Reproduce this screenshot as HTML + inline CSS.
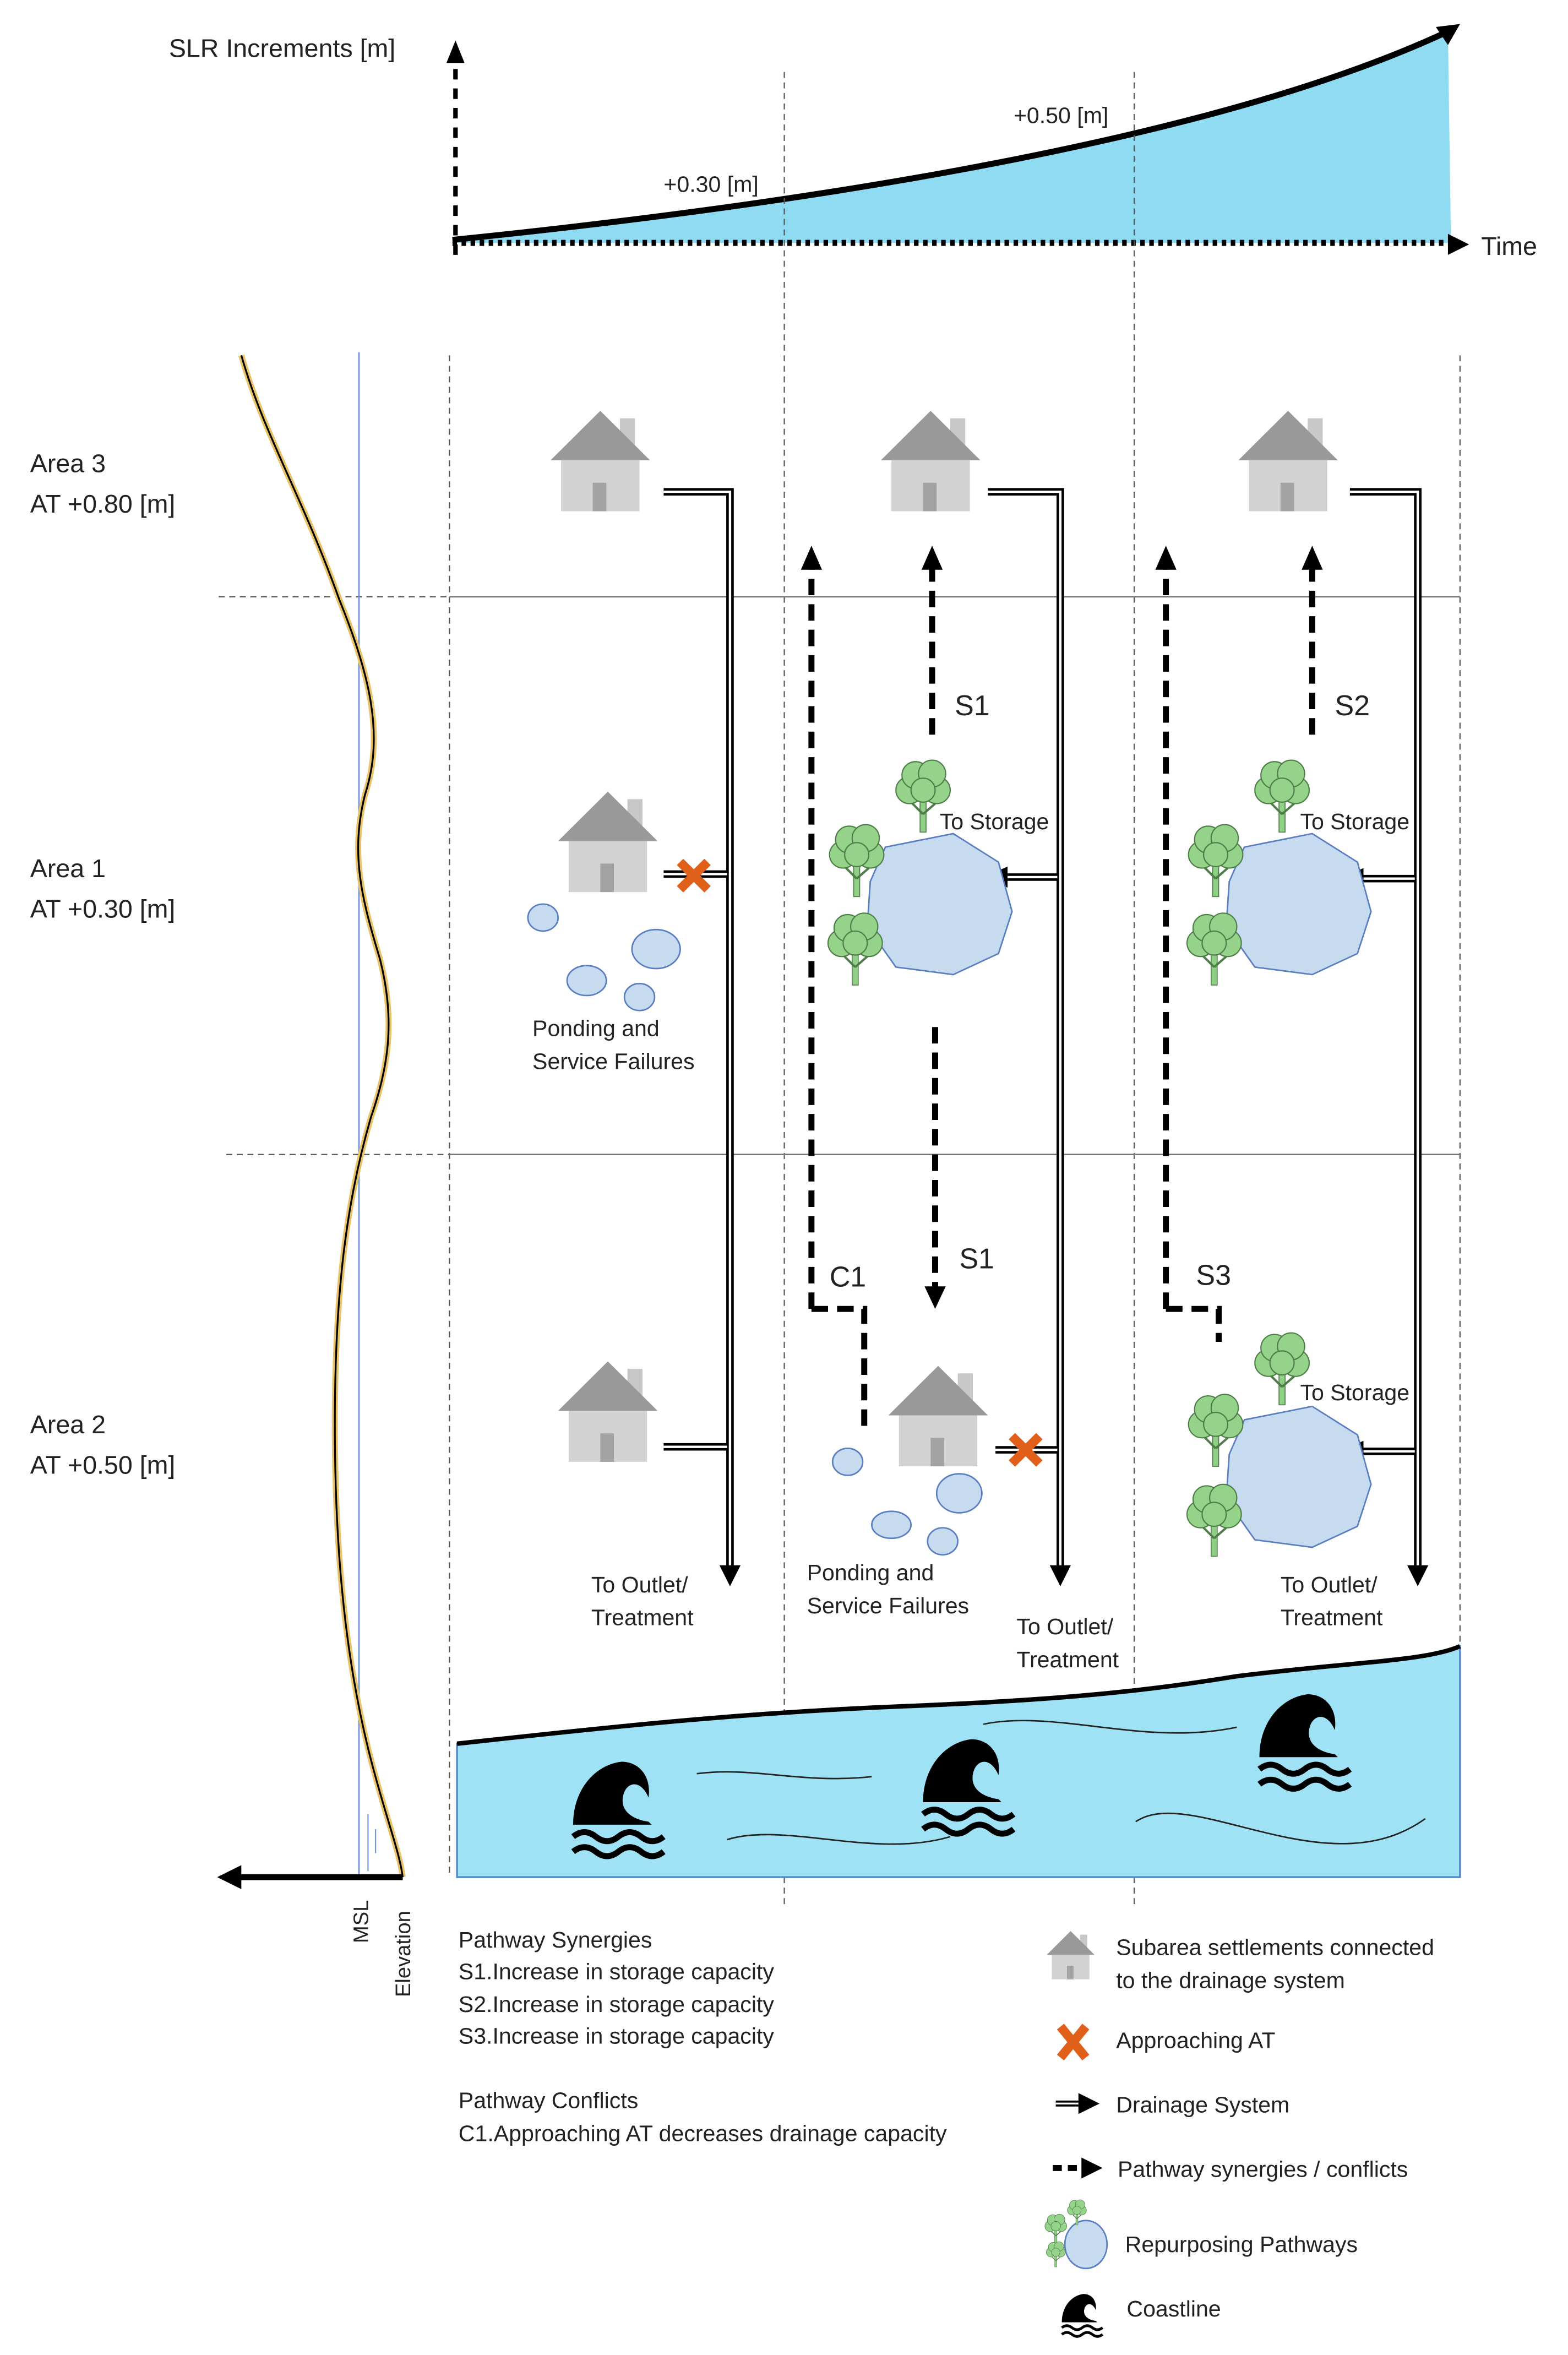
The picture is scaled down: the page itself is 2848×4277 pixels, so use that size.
<!DOCTYPE html>
<html><head><meta charset="utf-8"><style>
html,body{margin:0;padding:0;background:#fff}
svg{display:block}
text{font-family:"Liberation Sans",sans-serif;fill:#222}
</style></head><body>
<svg width="2848" height="4277" viewBox="0 0 1050 1577" preserveAspectRatio="none" xmlns="http://www.w3.org/2000/svg">
<defs>
<g id="house">
<rect x="46" y="5" width="10" height="22" fill="#c8c8c8"/>
<polygon points="0,33 33,0 66,33" fill="#999"/>
<rect x="7" y="33" width="52" height="34" fill="#d2d2d2"/>
<rect x="28" y="48" width="9" height="19" fill="#a3a3a3"/>
</g>
<g id="tree">
<rect x="-2" y="-22" width="4" height="22" fill="#8fcf86" stroke="#4f7d48" stroke-width="0.6"/>
<path d="M0,-12 L-8,-20 M0,-12 L8,-19" stroke="#4f7d48" stroke-width="1.5"/>
<g fill="#95d38b" stroke="#4f7d48" stroke-width="0.8">
<circle cx="-9" cy="-28" r="9"/><circle cx="9" cy="-28" r="9"/><circle cx="-5" cy="-38" r="9"/><circle cx="6" cy="-39" r="9"/><circle cx="0" cy="-28" r="8"/>
</g>
</g>
<g id="wave">
<path d="M0,42 C0,18 15,2 32,0 C44,0 52,10 50,24 C46,14 38,12 34,20 C30,30 36,38 50,40 L52,42 Z" fill="#000"/>
<path d="M0,50 q7.5,-6 15,0 t15,0 t15,0 t15,0" fill="none" stroke="#000" stroke-width="4"/>
<path d="M0,60 q7.5,-6 15,0 t15,0 t15,0 t15,0" fill="none" stroke="#000" stroke-width="4"/>
</g>
<g id="pond"><path d="M-35,-38 L10,-47 L40,-28 L49,5 L40,33 L10,47 L-28,42 L-47,15 L-45,-15 Z" fill="#c6daf0" stroke="#5a7fc0" stroke-width="1"/></g>
</defs>
<g transform="scale(1.01,1.004)">

<!-- top chart -->
<path d="M300,161 C495,140 792,100 960,20 L962,162 L300,162 Z" fill="#8fdcf2"/>
<path d="M300,160 C495,140 792,100 960,21" fill="none" stroke="#000" stroke-width="4"/>
<polygon points="968,16 952,18 960,30" fill="#000"/>
<line x1="302" y1="170" x2="302" y2="42" stroke="#000" stroke-width="3" stroke-dasharray="7,6"/>
<polygon points="302,27 296,42 308,42" fill="#000"/>
<line x1="300" y1="162" x2="962" y2="162" stroke="#000" stroke-width="4" stroke-dasharray="3,3"/>
<polygon points="974,163 960,156 960,170" fill="#000"/>
<text x="112" y="38" font-size="17">SLR Increments [m]</text>
<text x="982" y="170" font-size="17">Time</text>
<text x="440" y="128" font-size="15">+0.30 [m]</text>
<text x="672" y="82" font-size="15">+0.50 [m]</text>

<!-- grid -->
<g stroke="#555" stroke-width="0.8" stroke-dasharray="4,3">
<line x1="520" y1="48" x2="520" y2="1270"/>
<line x1="752" y1="48" x2="752" y2="1270"/>
<line x1="298" y1="237" x2="298" y2="1250"/>
<line x1="968" y1="237" x2="968" y2="1100"/>
<line x1="145" y1="398" x2="298" y2="398"/>
<line x1="150" y1="770" x2="298" y2="770"/>
</g>
<line x1="298" y1="398" x2="968" y2="398" stroke="#777" stroke-width="1"/>
<line x1="298" y1="770" x2="968" y2="770" stroke="#777" stroke-width="1"/>

<!-- elevation profile -->
<line x1="238" y1="235" x2="238" y2="1250" stroke="#6d97d6" stroke-width="1"/>
<line x1="244" y1="1210" x2="244" y2="1248" stroke="#6d97d6" stroke-width="0.8"/>
<line x1="249" y1="1220" x2="249" y2="1236" stroke="#6d97d6" stroke-width="0.8"/>
<path d="M160,237 C175,290 200,330 225,400 C245,450 255,490 242,530 C232,570 240,600 252,640 C262,680 258,710 246,745 C230,800 222,860 222,950 C222,1040 230,1110 245,1170 C255,1210 265,1235 267,1252" fill="none" stroke="#e8c36a" stroke-width="4"/>
<path d="M160,237 C175,290 200,330 225,400 C245,450 255,490 242,530 C232,570 240,600 252,640 C262,680 258,710 246,745 C230,800 222,860 222,950 C222,1040 230,1110 245,1170 C255,1210 265,1235 267,1252" fill="none" stroke="#000" stroke-width="1.2"/>
<line x1="267" y1="1252" x2="158" y2="1252" stroke="#000" stroke-width="4"/>
<polygon points="144,1252 160,1244 160,1260" fill="#000"/>
<text transform="translate(244,1296) rotate(-90)" font-size="14">MSL</text>
<text transform="translate(272,1332) rotate(-90)" font-size="14">Elevation</text>

<text x="20" y="315" font-size="17">Area 3</text>
<text x="20" y="342" font-size="17">AT +0.80 [m]</text>
<text x="20" y="585" font-size="17">Area 1</text>
<text x="20" y="612" font-size="17">AT +0.30 [m]</text>
<text x="20" y="956" font-size="17">Area 2</text>
<text x="20" y="983" font-size="17">AT +0.50 [m]</text>

<!-- houses -->
<use href="#house" x="365" y="274"/>
<use href="#house" x="584" y="274"/>
<use href="#house" x="821" y="274"/>
<use href="#house" x="370" y="528"/>
<use href="#house" x="370" y="908"/>
<use href="#house" x="589" y="911"/>

<!-- drainage double lines -->
<g fill="none" stroke="#000" stroke-width="5">
<path d="M440,328 H484 V1048"/><path d="M440,583 H484"/><path d="M440,965 H484"/>
<path d="M655,328 H703 V1048"/><path d="M662,585 H703"/><path d="M660,967 H703"/>
<path d="M895,328 H940 V1048"/><path d="M900,586 H940"/><path d="M900,968 H940"/>
</g>
<g fill="none" stroke="#fff" stroke-width="1.6">
<path d="M440,328 H484 V1046"/><path d="M440,583 H482"/><path d="M440,965 H482"/>
<path d="M655,328 H703 V1046"/><path d="M664,585 H701"/><path d="M660,967 H701"/>
<path d="M895,328 H940 V1046"/><path d="M902,586 H938"/><path d="M902,968 H938"/>
</g>
<g fill="#000">
<polygon points="484,1058 477,1044 491,1044"/>
<polygon points="703,1058 696,1044 710,1044"/>
<polygon points="940,1058 933,1044 947,1044"/>
<polygon points="652,585 668,578 668,592"/>
<polygon points="888,586 904,579 904,593"/>
<polygon points="888,968 904,961 904,975"/>
</g>

<!-- dashed arrows -->
<g fill="none" stroke="#000" stroke-width="4" stroke-dasharray="11,6">
<path d="M538,873 V378"/><path d="M538,873 H573 V955"/>
<path d="M618,490 V378"/>
<path d="M620,685 V860"/>
<path d="M773,873 V378"/><path d="M773,873 H808 V895"/>
<path d="M870,490 V378"/>
</g>
<g fill="#000">
<polygon points="538,364 531,380 545,380"/>
<polygon points="618,364 611,380 625,380"/>
<polygon points="620,873 613,858 627,858"/>
<polygon points="773,364 766,380 780,380"/>
<polygon points="870,364 863,380 877,380"/>
</g>
<text x="633" y="477" font-size="19">S1</text>
<text x="636" y="846" font-size="19">S1</text>
<text x="885" y="477" font-size="19">S2</text>
<text x="550" y="858" font-size="19">C1</text>
<text x="793" y="857" font-size="19">S3</text>

<!-- ponds and trees -->
<use href="#pond" x="622" y="603"/>
<use href="#pond" x="860" y="603"/>
<use href="#pond" x="860" y="985"/>
<use href="#tree" x="612" y="555"/><use href="#tree" x="568" y="598"/><use href="#tree" x="567" y="657"/>
<use href="#tree" x="850" y="555"/><use href="#tree" x="806" y="598"/><use href="#tree" x="805" y="657"/>
<use href="#tree" x="850" y="937"/><use href="#tree" x="806" y="978"/><use href="#tree" x="805" y="1038"/>
<text x="623" y="553" font-size="15">To Storage</text>
<text x="862" y="553" font-size="15">To Storage</text>
<text x="862" y="934" font-size="15">To Storage</text>

<g fill="#c6daf0" stroke="#5a7fc0" stroke-width="1">
<ellipse cx="360" cy="612" rx="10" ry="9"/><ellipse cx="435" cy="633" rx="16" ry="13"/><ellipse cx="389" cy="654" rx="13" ry="10"/><ellipse cx="424" cy="665" rx="10" ry="9"/>
<ellipse cx="562" cy="975" rx="10" ry="9"/><ellipse cx="636" cy="996" rx="15" ry="13"/><ellipse cx="591" cy="1017" rx="13" ry="9"/><ellipse cx="625" cy="1028" rx="10" ry="9"/>
</g>
<text x="353" y="691" font-size="15">Ponding and</text>
<text x="353" y="713" font-size="15">Service Failures</text>
<text x="535" y="1054" font-size="15">Ponding and</text>
<text x="535" y="1076" font-size="15">Service Failures</text>
<text x="392" y="1062" font-size="15">To Outlet/</text>
<text x="392" y="1084" font-size="15">Treatment</text>
<text x="674" y="1090" font-size="15">To Outlet/</text>
<text x="674" y="1112" font-size="15">Treatment</text>
<text x="849" y="1062" font-size="15">To Outlet/</text>
<text x="849" y="1084" font-size="15">Treatment</text>

<!-- X marks -->
<g stroke="#e0601a" stroke-width="6" stroke-linecap="square">
<path d="M453,577 L467,591 M467,577 L453,591"/>
<path d="M673,960 L687,974 M687,960 L673,974"/>
<path d="M705,1354 L718,1370 M718,1354 L705,1370"/>
</g>

<!-- sea -->
<path d="M303,1163 C420,1150 500,1142 600,1138 C700,1134 760,1128 820,1118 C900,1108 945,1108 968,1098 L968,1252 L303,1252 Z" fill="#a0e2f5" stroke="#4f86c6" stroke-width="1.2"/>
<path d="M303,1163 C420,1150 500,1142 600,1138 C700,1134 760,1128 820,1118 C900,1108 945,1108 968,1098" fill="none" stroke="#000" stroke-width="3"/>
<g fill="none" stroke="#222" stroke-width="1">
<path d="M462,1183 C500,1178 530,1190 578,1185"/>
<path d="M652,1150 C700,1140 760,1165 820,1152"/>
<path d="M482,1227 C520,1215 580,1240 630,1225"/>
<path d="M753,1215 C790,1190 880,1260 945,1213"/>
</g>
<use href="#wave" x="380" y="1175"/>
<use href="#wave" x="612" y="1160"/>
<use href="#wave" x="835" y="1130"/>

<!-- legend -->
<g font-size="15">
<text x="304" y="1299">Pathway Synergies</text>
<text x="304" y="1320">S1.Increase in storage capacity</text>
<text x="304" y="1342">S2.Increase in storage capacity</text>
<text x="304" y="1363">S3.Increase in storage capacity</text>
<text x="304" y="1406">Pathway Conflicts</text>
<text x="304" y="1428">C1.Approaching AT decreases drainage capacity</text>
<text x="740" y="1304">Subarea settlements connected</text>
<text x="740" y="1326">to the drainage system</text>
<text x="740" y="1366">Approaching AT</text>
<text x="740" y="1409">Drainage System</text>
<text x="741" y="1452">Pathway synergies / conflicts</text>
<text x="746" y="1502">Repurposing Pathways</text>
<text x="747" y="1545">Coastline</text>
</g>
<use href="#house" transform="translate(694,1288) scale(0.48)"/>
<path d="M700,1403 H716" stroke="#000" stroke-width="4"/><path d="M700,1403 H716" stroke="#fff" stroke-width="1.2"/>
<polygon points="729,1403 715,1396 715,1410" fill="#000"/>
<path d="M698,1446 H716" stroke="#000" stroke-width="4" stroke-dasharray="6,4"/>
<polygon points="731,1446 717,1439 717,1453" fill="#000"/>
<ellipse cx="720" cy="1497" rx="14" ry="16" fill="#c6daf0" stroke="#5a7fc0"/>
<use href="#tree" transform="translate(714,1484) scale(0.35)"/>
<use href="#tree" transform="translate(700,1496) scale(0.4)"/>
<use href="#tree" transform="translate(700,1512) scale(0.35)"/>
<use href="#wave" transform="translate(704,1530) scale(0.45)"/>
</g>
</svg>
</body></html>
